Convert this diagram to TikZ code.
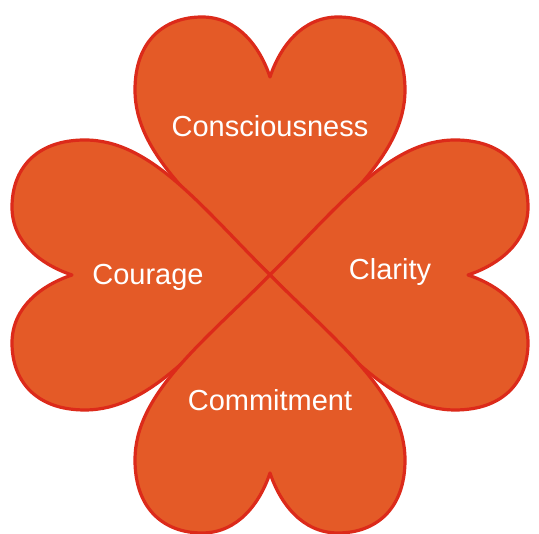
\documentclass[tikz,border=0pt]{standalone}
\usepackage{fontspec}
\setmainfont{Liberation Sans}
\definecolor{heartfill}{HTML}{E45A27}
\definecolor{heartline}{HTML}{DC2A1A}
\tikzset{
  heart/.style={fill=heartfill, draw=heartline, line width=3.2pt, line join=round},
  lbl/.style={text=white, font=\fontsize{29}{32}\selectfont, inner sep=0pt}
}
\newcommand{\heartpath}{(0,0) .. controls (70,70) and (135,120) .. (135,185)
  .. controls (135,235) and (105,258) .. (68,258)
  .. controls (32,258) and (10,228) .. (0,198)
  .. controls (-10,228) and (-32,258) .. (-68,258)
  .. controls (-105,258) and (-135,235) .. (-135,185)
  .. controls (-135,120) and (-70,70) .. (0,0) -- cycle}
\begin{document}
\begin{tikzpicture}[x=1pt,y=1pt]
\useasboundingbox (0,0) rectangle (539,534);
\coordinate (c) at (270,259);
\begin{scope}[shift={(c)}]
  \path[heart] \heartpath;
  \path[heart, rotate=90] \heartpath;
  \path[heart, rotate=-90] \heartpath;
  \path[heart, rotate=180] \heartpath;
\end{scope}
\node[lbl] (t1) at (270,408) {Consciousness};
\node[lbl] (t2) at (148,257) {Courage};
\node[lbl] (t3) at (390,262) {Clarity};
\node[lbl] (t4) at (270,134) {Commitment};
\end{tikzpicture}
\end{document}
